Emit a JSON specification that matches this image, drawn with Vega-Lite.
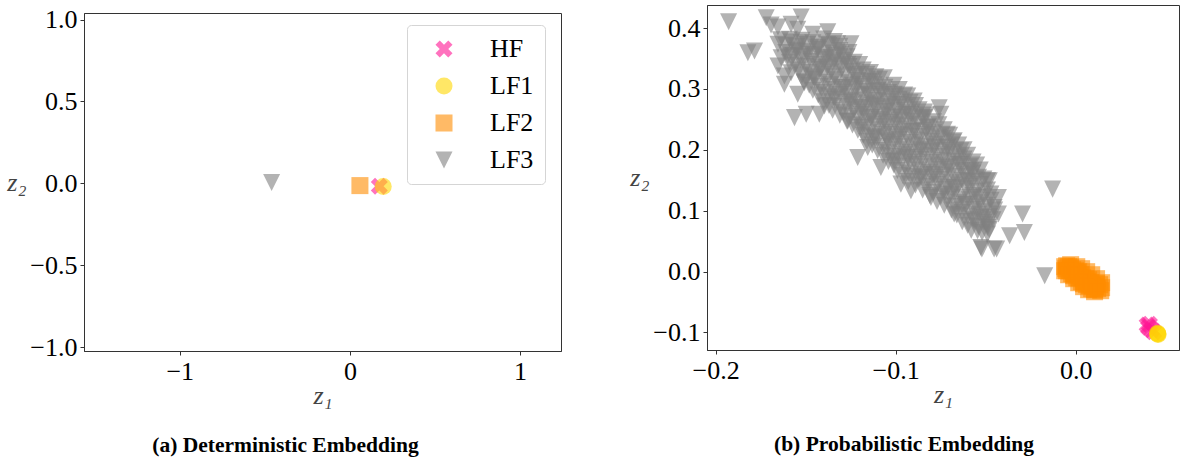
{
"$schema": "https://vega.github.io/schema/vega-lite/v6.json",
"background": "white",
"padding": {"left": 6, "top": 4, "right": 0, "bottom": 0},
"spacing": 67,
"config": {
 "view": {"stroke": "#333", "strokeWidth": 1},
 "font": "Liberation Serif",
 "axis": {"labelFont": "Liberation Serif", "labelFontSize": 26, "labelColor": "black", "titleFont": "Liberation Serif", "titleFontStyle": "italic", "titleFontWeight": "normal", "titleFontSize": 26, "titleColor": "#444", "domainColor": "#333", "tickColor": "#333", "tickSize": 4, "grid": false, "domainWidth": 1},
 "axisX": {"labelPadding": 3, "titlePadding": -2, "labelFlush": false},
 "axisY": {"labelPadding": 3, "titleAngle": 0, "titlePadding": 2, "titleAlign": "right", "titleBaseline": "middle", "minExtent": 56, "maxExtent": 56},
 "title": {"font": "Liberation Serif", "fontSize": 21.5, "fontWeight": "bold", "color": "black"}
},
"datasets": {
 "left": [
  {"fidelity": "HF", "z1": 0.173, "z2": -0.018},
  {"fidelity": "LF1", "z1": 0.196, "z2": -0.02},
  {"fidelity": "LF2", "z1": 0.059, "z2": -0.014},
  {"fidelity": "LF3", "z1": -0.46, "z2": 0.005}
 ],
 "right": [
  {"fidelity": "HF", "z1": 0.0397, "z2": -0.0881},
  {"fidelity": "HF", "z1": 0.0410, "z2": -0.0865},
  {"fidelity": "HF", "z1": 0.0405, "z2": -0.0922},
  {"fidelity": "HF", "z1": 0.0422, "z2": -0.0955},
  {"fidelity": "HF", "z1": 0.0433, "z2": -0.0988},
  {"fidelity": "LF1", "z1": 0.0456, "z2": -0.1026},
  {"fidelity": "LF1", "z1": 0.0455, "z2": -0.1013},
  {"fidelity": "LF1", "z1": 0.0458, "z2": -0.1034},
  {"fidelity": "LF2", "z1": -0.0061, "z2": 0.0079},
  {"fidelity": "LF2", "z1": -0.0050, "z2": 0.0095},
  {"fidelity": "LF2", "z1": -0.0039, "z2": 0.0079},
  {"fidelity": "LF2", "z1": -0.0028, "z2": 0.0062},
  {"fidelity": "LF2", "z1": -0.0050, "z2": 0.0013},
  {"fidelity": "LF2", "z1": -0.0033, "z2": 0.0013},
  {"fidelity": "LF2", "z1": -0.0017, "z2": 0.0030},
  {"fidelity": "LF2", "z1": 0.0000, "z2": 0.0013},
  {"fidelity": "LF2", "z1": -0.0022, "z2": -0.0036},
  {"fidelity": "LF2", "z1": -0.0006, "z2": -0.0036},
  {"fidelity": "LF2", "z1": 0.0011, "z2": -0.0020},
  {"fidelity": "LF2", "z1": 0.0028, "z2": -0.0053},
  {"fidelity": "LF2", "z1": 0.0006, "z2": -0.0102},
  {"fidelity": "LF2", "z1": 0.0022, "z2": -0.0102},
  {"fidelity": "LF2", "z1": 0.0039, "z2": -0.0102},
  {"fidelity": "LF2", "z1": 0.0055, "z2": -0.0118},
  {"fidelity": "LF2", "z1": 0.0033, "z2": -0.0167},
  {"fidelity": "LF2", "z1": 0.0050, "z2": -0.0167},
  {"fidelity": "LF2", "z1": 0.0067, "z2": -0.0167},
  {"fidelity": "LF2", "z1": 0.0083, "z2": -0.0184},
  {"fidelity": "LF2", "z1": 0.0061, "z2": -0.0217},
  {"fidelity": "LF2", "z1": 0.0078, "z2": -0.0233},
  {"fidelity": "LF2", "z1": 0.0094, "z2": -0.0233},
  {"fidelity": "LF2", "z1": 0.0111, "z2": -0.0249},
  {"fidelity": "LF2", "z1": 0.0089, "z2": -0.0282},
  {"fidelity": "LF2", "z1": 0.0105, "z2": -0.0299},
  {"fidelity": "LF2", "z1": 0.0122, "z2": -0.0282},
  {"fidelity": "LF2", "z1": 0.0139, "z2": -0.0315},
  {"fidelity": "LF2", "z1": 0.0144, "z2": -0.0266},
  {"fidelity": "LF2", "z1": 0.0133, "z2": -0.0217},
  {"fidelity": "LF2", "z1": -0.0055, "z2": 0.0046},
  {"fidelity": "LF2", "z1": -0.0011, "z2": -0.0069},
  {"fidelity": "LF2", "z1": 0.0044, "z2": -0.0200},
  {"fidelity": "LF2", "z1": 0.0116, "z2": -0.0200},
  {"fidelity": "LF2", "z1": 0.0072, "z2": -0.0135},
  {"fidelity": "LF2", "z1": 0.0017, "z2": -0.0003},
  {"fidelity": "LF2", "z1": -0.0028, "z2": 0.0112},
  {"fidelity": "LF2", "z1": 0.0006, "z2": 0.0079},
  {"fidelity": "LF2", "z1": 0.0033, "z2": 0.0046},
  {"fidelity": "LF2", "z1": 0.0061, "z2": -0.0003},
  {"fidelity": "LF2", "z1": 0.0089, "z2": -0.0053},
  {"fidelity": "LF2", "z1": 0.0116, "z2": -0.0118},
  {"fidelity": "LF2", "z1": 0.0144, "z2": -0.0184},
  {"fidelity": "LF2", "z1": -0.0061, "z2": 0.0013},
  {"fidelity": "LF2", "z1": -0.0039, "z2": -0.0053},
  {"fidelity": "LF2", "z1": -0.0011, "z2": -0.0118},
  {"fidelity": "LF2", "z1": 0.0017, "z2": -0.0184},
  {"fidelity": "LF2", "z1": 0.0044, "z2": -0.0249},
  {"fidelity": "LF2", "z1": 0.0072, "z2": -0.0299},
  {"fidelity": "LF2", "z1": 0.0105, "z2": -0.0332},
  {"fidelity": "LF3", "z1": -0.1928, "z2": 0.4105},
  {"fidelity": "LF3", "z1": -0.1719, "z2": 0.4170},
  {"fidelity": "LF3", "z1": -0.1692, "z2": 0.4051},
  {"fidelity": "LF3", "z1": -0.1654, "z2": 0.4018},
  {"fidelity": "LF3", "z1": -0.1525, "z2": 0.4182},
  {"fidelity": "LF3", "z1": -0.1581, "z2": 0.4062},
  {"fidelity": "LF3", "z1": -0.1544, "z2": 0.3980},
  {"fidelity": "LF3", "z1": -0.1460, "z2": 0.3898},
  {"fidelity": "LF3", "z1": -0.1377, "z2": 0.3941},
  {"fidelity": "LF3", "z1": -0.1821, "z2": 0.3596},
  {"fidelity": "LF3", "z1": -0.1784, "z2": 0.3624},
  {"fidelity": "LF3", "z1": -0.1654, "z2": 0.3734},
  {"fidelity": "LF3", "z1": -0.1590, "z2": 0.3816},
  {"fidelity": "LF3", "z1": -0.1525, "z2": 0.3760},
  {"fidelity": "LF3", "z1": -0.1636, "z2": 0.3514},
  {"fidelity": "LF3", "z1": -0.1654, "z2": 0.3378},
  {"fidelity": "LF3", "z1": -0.1599, "z2": 0.3542},
  {"fidelity": "LF3", "z1": -0.1544, "z2": 0.3624},
  {"fidelity": "LF3", "z1": -0.1488, "z2": 0.3570},
  {"fidelity": "LF3", "z1": -0.1433, "z2": 0.3678},
  {"fidelity": "LF3", "z1": -0.1377, "z2": 0.3734},
  {"fidelity": "LF3", "z1": -0.1322, "z2": 0.3744},
  {"fidelity": "LF3", "z1": -0.1248, "z2": 0.3744},
  {"fidelity": "LF3", "z1": -0.1618, "z2": 0.3214},
  {"fidelity": "LF3", "z1": -0.1581, "z2": 0.3268},
  {"fidelity": "LF3", "z1": -0.1618, "z2": 0.3077},
  {"fidelity": "LF3", "z1": -0.1544, "z2": 0.2913},
  {"fidelity": "LF3", "z1": -0.1507, "z2": 0.3104},
  {"fidelity": "LF3", "z1": -0.1451, "z2": 0.3186},
  {"fidelity": "LF3", "z1": -0.1414, "z2": 0.3350},
  {"fidelity": "LF3", "z1": -0.1341, "z2": 0.3460},
  {"fidelity": "LF3", "z1": -0.1266, "z2": 0.3406},
  {"fidelity": "LF3", "z1": -0.1211, "z2": 0.3241},
  {"fidelity": "LF3", "z1": -0.1377, "z2": 0.3514},
  {"fidelity": "LF3", "z1": -0.1303, "z2": 0.3570},
  {"fidelity": "LF3", "z1": -0.1562, "z2": 0.2529},
  {"fidelity": "LF3", "z1": -0.1497, "z2": 0.2585},
  {"fidelity": "LF3", "z1": -0.1424, "z2": 0.2585},
  {"fidelity": "LF3", "z1": -0.1396, "z2": 0.2721},
  {"fidelity": "LF3", "z1": -0.1341, "z2": 0.2857},
  {"fidelity": "LF3", "z1": -0.1285, "z2": 0.3022},
  {"fidelity": "LF3", "z1": -0.1211, "z2": 0.3077},
  {"fidelity": "LF3", "z1": -0.1137, "z2": 0.3131},
  {"fidelity": "LF3", "z1": -0.1063, "z2": 0.3186},
  {"fidelity": "LF3", "z1": -0.1155, "z2": 0.2913},
  {"fidelity": "LF3", "z1": -0.1082, "z2": 0.2967},
  {"fidelity": "LF3", "z1": -0.1008, "z2": 0.2913},
  {"fidelity": "LF3", "z1": -0.0933, "z2": 0.2885},
  {"fidelity": "LF3", "z1": -0.1248, "z2": 0.2803},
  {"fidelity": "LF3", "z1": -0.1192, "z2": 0.2693},
  {"fidelity": "LF3", "z1": -0.1119, "z2": 0.2749},
  {"fidelity": "LF3", "z1": -0.1044, "z2": 0.2693},
  {"fidelity": "LF3", "z1": -0.0971, "z2": 0.2749},
  {"fidelity": "LF3", "z1": -0.0897, "z2": 0.2803},
  {"fidelity": "LF3", "z1": -0.1266, "z2": 0.2475},
  {"fidelity": "LF3", "z1": -0.1192, "z2": 0.2365},
  {"fidelity": "LF3", "z1": -0.1137, "z2": 0.2529},
  {"fidelity": "LF3", "z1": -0.1063, "z2": 0.2475},
  {"fidelity": "LF3", "z1": -0.0989, "z2": 0.2529},
  {"fidelity": "LF3", "z1": -0.0915, "z2": 0.2585},
  {"fidelity": "LF3", "z1": -0.0841, "z2": 0.2529},
  {"fidelity": "LF3", "z1": -0.0758, "z2": 0.2693},
  {"fidelity": "LF3", "z1": -0.0749, "z2": 0.2585},
  {"fidelity": "LF3", "z1": -0.1211, "z2": 0.1873},
  {"fidelity": "LF3", "z1": -0.1155, "z2": 0.2037},
  {"fidelity": "LF3", "z1": -0.1119, "z2": 0.2201},
  {"fidelity": "LF3", "z1": -0.1044, "z2": 0.2147},
  {"fidelity": "LF3", "z1": -0.0971, "z2": 0.2257},
  {"fidelity": "LF3", "z1": -0.0897, "z2": 0.2311},
  {"fidelity": "LF3", "z1": -0.0823, "z2": 0.2365},
  {"fidelity": "LF3", "z1": -0.0712, "z2": 0.2257},
  {"fidelity": "LF3", "z1": -0.0675, "z2": 0.2147},
  {"fidelity": "LF3", "z1": -0.1082, "z2": 0.1709},
  {"fidelity": "LF3", "z1": -0.1008, "z2": 0.1818},
  {"fidelity": "LF3", "z1": -0.0933, "z2": 0.1873},
  {"fidelity": "LF3", "z1": -0.0860, "z2": 0.1983},
  {"fidelity": "LF3", "z1": -0.0786, "z2": 0.2037},
  {"fidelity": "LF3", "z1": -0.0712, "z2": 0.2037},
  {"fidelity": "LF3", "z1": -0.0638, "z2": 0.1983},
  {"fidelity": "LF3", "z1": -0.0971, "z2": 0.1436},
  {"fidelity": "LF3", "z1": -0.0915, "z2": 0.1326},
  {"fidelity": "LF3", "z1": -0.0860, "z2": 0.1544},
  {"fidelity": "LF3", "z1": -0.0786, "z2": 0.1600},
  {"fidelity": "LF3", "z1": -0.0712, "z2": 0.1709},
  {"fidelity": "LF3", "z1": -0.0638, "z2": 0.1764},
  {"fidelity": "LF3", "z1": -0.0804, "z2": 0.1216},
  {"fidelity": "LF3", "z1": -0.0730, "z2": 0.1272},
  {"fidelity": "LF3", "z1": -0.0675, "z2": 0.1380},
  {"fidelity": "LF3", "z1": -0.0582, "z2": 0.1654},
  {"fidelity": "LF3", "z1": -0.0601, "z2": 0.1490},
  {"fidelity": "LF3", "z1": -0.0490, "z2": 0.1490},
  {"fidelity": "LF3", "z1": -0.0675, "z2": 0.0944},
  {"fidelity": "LF3", "z1": -0.0620, "z2": 0.1108},
  {"fidelity": "LF3", "z1": -0.0545, "z2": 0.1216},
  {"fidelity": "LF3", "z1": -0.0471, "z2": 0.1272},
  {"fidelity": "LF3", "z1": -0.0564, "z2": 0.0834},
  {"fidelity": "LF3", "z1": -0.0509, "z2": 0.0888},
  {"fidelity": "LF3", "z1": -0.0453, "z2": 0.1052},
  {"fidelity": "LF3", "z1": -0.0527, "z2": 0.0396},
  {"fidelity": "LF3", "z1": -0.0453, "z2": 0.0369},
  {"fidelity": "LF3", "z1": -0.0545, "z2": 0.0670},
  {"fidelity": "LF3", "z1": -0.0490, "z2": 0.0615},
  {"fidelity": "LF3", "z1": -0.0295, "z2": 0.0944},
  {"fidelity": "LF3", "z1": -0.0285, "z2": 0.0642},
  {"fidelity": "LF3", "z1": -0.0367, "z2": 0.0588},
  {"fidelity": "LF3", "z1": -0.0439, "z2": 0.0369},
  {"fidelity": "LF3", "z1": -0.0521, "z2": 0.0369},
  {"fidelity": "LF3", "z1": -0.0480, "z2": 0.1490},
  {"fidelity": "LF3", "z1": -0.0429, "z2": 0.1216},
  {"fidelity": "LF3", "z1": -0.0429, "z2": 0.0944},
  {"fidelity": "LF3", "z1": -0.0490, "z2": 0.0724},
  {"fidelity": "LF3", "z1": -0.0128, "z2": 0.1354},
  {"fidelity": "LF3", "z1": -0.0172, "z2": -0.0069},
  {"fidelity": "LF3", "z1": -0.164, "z2": 0.381},
  {"fidelity": "LF3", "z1": -0.158, "z2": 0.377},
  {"fidelity": "LF3", "z1": -0.152, "z2": 0.380},
  {"fidelity": "LF3", "z1": -0.146, "z2": 0.376},
  {"fidelity": "LF3", "z1": -0.140, "z2": 0.382},
  {"fidelity": "LF3", "z1": -0.134, "z2": 0.378},
  {"fidelity": "LF3", "z1": -0.161, "z2": 0.360},
  {"fidelity": "LF3", "z1": -0.155, "z2": 0.364},
  {"fidelity": "LF3", "z1": -0.149, "z2": 0.361},
  {"fidelity": "LF3", "z1": -0.143, "z2": 0.365},
  {"fidelity": "LF3", "z1": -0.137, "z2": 0.359},
  {"fidelity": "LF3", "z1": -0.131, "z2": 0.363},
  {"fidelity": "LF3", "z1": -0.126, "z2": 0.360},
  {"fidelity": "LF3", "z1": -0.159, "z2": 0.344},
  {"fidelity": "LF3", "z1": -0.153, "z2": 0.348},
  {"fidelity": "LF3", "z1": -0.147, "z2": 0.345},
  {"fidelity": "LF3", "z1": -0.141, "z2": 0.349},
  {"fidelity": "LF3", "z1": -0.135, "z2": 0.343},
  {"fidelity": "LF3", "z1": -0.129, "z2": 0.347},
  {"fidelity": "LF3", "z1": -0.123, "z2": 0.344},
  {"fidelity": "LF3", "z1": -0.154, "z2": 0.331},
  {"fidelity": "LF3", "z1": -0.148, "z2": 0.327},
  {"fidelity": "LF3", "z1": -0.142, "z2": 0.332},
  {"fidelity": "LF3", "z1": -0.136, "z2": 0.328},
  {"fidelity": "LF3", "z1": -0.130, "z2": 0.333},
  {"fidelity": "LF3", "z1": -0.124, "z2": 0.329},
  {"fidelity": "LF3", "z1": -0.118, "z2": 0.331},
  {"fidelity": "LF3", "z1": -0.114, "z2": 0.327},
  {"fidelity": "LF3", "z1": -0.151, "z2": 0.312},
  {"fidelity": "LF3", "z1": -0.145, "z2": 0.316},
  {"fidelity": "LF3", "z1": -0.139, "z2": 0.311},
  {"fidelity": "LF3", "z1": -0.133, "z2": 0.315},
  {"fidelity": "LF3", "z1": -0.127, "z2": 0.310},
  {"fidelity": "LF3", "z1": -0.121, "z2": 0.314},
  {"fidelity": "LF3", "z1": -0.115, "z2": 0.312},
  {"fidelity": "LF3", "z1": -0.109, "z2": 0.316},
  {"fidelity": "LF3", "z1": -0.146, "z2": 0.298},
  {"fidelity": "LF3", "z1": -0.140, "z2": 0.294},
  {"fidelity": "LF3", "z1": -0.134, "z2": 0.299},
  {"fidelity": "LF3", "z1": -0.128, "z2": 0.295},
  {"fidelity": "LF3", "z1": -0.122, "z2": 0.300},
  {"fidelity": "LF3", "z1": -0.116, "z2": 0.296},
  {"fidelity": "LF3", "z1": -0.110, "z2": 0.298},
  {"fidelity": "LF3", "z1": -0.104, "z2": 0.294},
  {"fidelity": "LF3", "z1": -0.098, "z2": 0.299},
  {"fidelity": "LF3", "z1": -0.140, "z2": 0.279},
  {"fidelity": "LF3", "z1": -0.134, "z2": 0.283},
  {"fidelity": "LF3", "z1": -0.128, "z2": 0.278},
  {"fidelity": "LF3", "z1": -0.122, "z2": 0.282},
  {"fidelity": "LF3", "z1": -0.116, "z2": 0.277},
  {"fidelity": "LF3", "z1": -0.110, "z2": 0.281},
  {"fidelity": "LF3", "z1": -0.104, "z2": 0.279},
  {"fidelity": "LF3", "z1": -0.098, "z2": 0.283},
  {"fidelity": "LF3", "z1": -0.092, "z2": 0.278},
  {"fidelity": "LF3", "z1": -0.135, "z2": 0.265},
  {"fidelity": "LF3", "z1": -0.129, "z2": 0.261},
  {"fidelity": "LF3", "z1": -0.123, "z2": 0.266},
  {"fidelity": "LF3", "z1": -0.117, "z2": 0.262},
  {"fidelity": "LF3", "z1": -0.111, "z2": 0.267},
  {"fidelity": "LF3", "z1": -0.105, "z2": 0.263},
  {"fidelity": "LF3", "z1": -0.099, "z2": 0.265},
  {"fidelity": "LF3", "z1": -0.093, "z2": 0.261},
  {"fidelity": "LF3", "z1": -0.087, "z2": 0.266},
  {"fidelity": "LF3", "z1": -0.084, "z2": 0.262},
  {"fidelity": "LF3", "z1": -0.127, "z2": 0.247},
  {"fidelity": "LF3", "z1": -0.121, "z2": 0.251},
  {"fidelity": "LF3", "z1": -0.115, "z2": 0.246},
  {"fidelity": "LF3", "z1": -0.109, "z2": 0.250},
  {"fidelity": "LF3", "z1": -0.103, "z2": 0.245},
  {"fidelity": "LF3", "z1": -0.097, "z2": 0.249},
  {"fidelity": "LF3", "z1": -0.091, "z2": 0.247},
  {"fidelity": "LF3", "z1": -0.085, "z2": 0.251},
  {"fidelity": "LF3", "z1": -0.079, "z2": 0.246},
  {"fidelity": "LF3", "z1": -0.121, "z2": 0.232},
  {"fidelity": "LF3", "z1": -0.115, "z2": 0.228},
  {"fidelity": "LF3", "z1": -0.109, "z2": 0.233},
  {"fidelity": "LF3", "z1": -0.103, "z2": 0.229},
  {"fidelity": "LF3", "z1": -0.097, "z2": 0.234},
  {"fidelity": "LF3", "z1": -0.091, "z2": 0.230},
  {"fidelity": "LF3", "z1": -0.085, "z2": 0.232},
  {"fidelity": "LF3", "z1": -0.079, "z2": 0.228},
  {"fidelity": "LF3", "z1": -0.073, "z2": 0.233},
  {"fidelity": "LF3", "z1": -0.116, "z2": 0.214},
  {"fidelity": "LF3", "z1": -0.110, "z2": 0.218},
  {"fidelity": "LF3", "z1": -0.104, "z2": 0.213},
  {"fidelity": "LF3", "z1": -0.098, "z2": 0.217},
  {"fidelity": "LF3", "z1": -0.092, "z2": 0.212},
  {"fidelity": "LF3", "z1": -0.086, "z2": 0.216},
  {"fidelity": "LF3", "z1": -0.080, "z2": 0.214},
  {"fidelity": "LF3", "z1": -0.074, "z2": 0.218},
  {"fidelity": "LF3", "z1": -0.068, "z2": 0.213},
  {"fidelity": "LF3", "z1": -0.110, "z2": 0.199},
  {"fidelity": "LF3", "z1": -0.104, "z2": 0.195},
  {"fidelity": "LF3", "z1": -0.098, "z2": 0.200},
  {"fidelity": "LF3", "z1": -0.092, "z2": 0.196},
  {"fidelity": "LF3", "z1": -0.086, "z2": 0.201},
  {"fidelity": "LF3", "z1": -0.080, "z2": 0.197},
  {"fidelity": "LF3", "z1": -0.074, "z2": 0.199},
  {"fidelity": "LF3", "z1": -0.068, "z2": 0.195},
  {"fidelity": "LF3", "z1": -0.062, "z2": 0.200},
  {"fidelity": "LF3", "z1": -0.104, "z2": 0.181},
  {"fidelity": "LF3", "z1": -0.098, "z2": 0.185},
  {"fidelity": "LF3", "z1": -0.092, "z2": 0.180},
  {"fidelity": "LF3", "z1": -0.086, "z2": 0.184},
  {"fidelity": "LF3", "z1": -0.080, "z2": 0.179},
  {"fidelity": "LF3", "z1": -0.074, "z2": 0.183},
  {"fidelity": "LF3", "z1": -0.068, "z2": 0.181},
  {"fidelity": "LF3", "z1": -0.062, "z2": 0.185},
  {"fidelity": "LF3", "z1": -0.057, "z2": 0.180},
  {"fidelity": "LF3", "z1": -0.099, "z2": 0.166},
  {"fidelity": "LF3", "z1": -0.093, "z2": 0.162},
  {"fidelity": "LF3", "z1": -0.087, "z2": 0.167},
  {"fidelity": "LF3", "z1": -0.081, "z2": 0.163},
  {"fidelity": "LF3", "z1": -0.075, "z2": 0.168},
  {"fidelity": "LF3", "z1": -0.069, "z2": 0.164},
  {"fidelity": "LF3", "z1": -0.063, "z2": 0.166},
  {"fidelity": "LF3", "z1": -0.057, "z2": 0.162},
  {"fidelity": "LF3", "z1": -0.053, "z2": 0.167},
  {"fidelity": "LF3", "z1": -0.093, "z2": 0.148},
  {"fidelity": "LF3", "z1": -0.087, "z2": 0.152},
  {"fidelity": "LF3", "z1": -0.081, "z2": 0.147},
  {"fidelity": "LF3", "z1": -0.075, "z2": 0.151},
  {"fidelity": "LF3", "z1": -0.069, "z2": 0.146},
  {"fidelity": "LF3", "z1": -0.063, "z2": 0.150},
  {"fidelity": "LF3", "z1": -0.057, "z2": 0.148},
  {"fidelity": "LF3", "z1": -0.051, "z2": 0.152},
  {"fidelity": "LF3", "z1": -0.085, "z2": 0.134},
  {"fidelity": "LF3", "z1": -0.079, "z2": 0.130},
  {"fidelity": "LF3", "z1": -0.073, "z2": 0.135},
  {"fidelity": "LF3", "z1": -0.067, "z2": 0.131},
  {"fidelity": "LF3", "z1": -0.061, "z2": 0.136},
  {"fidelity": "LF3", "z1": -0.055, "z2": 0.132},
  {"fidelity": "LF3", "z1": -0.049, "z2": 0.134},
  {"fidelity": "LF3", "z1": -0.077, "z2": 0.115},
  {"fidelity": "LF3", "z1": -0.071, "z2": 0.119},
  {"fidelity": "LF3", "z1": -0.065, "z2": 0.114},
  {"fidelity": "LF3", "z1": -0.059, "z2": 0.118},
  {"fidelity": "LF3", "z1": -0.053, "z2": 0.113},
  {"fidelity": "LF3", "z1": -0.047, "z2": 0.117},
  {"fidelity": "LF3", "z1": -0.069, "z2": 0.101},
  {"fidelity": "LF3", "z1": -0.063, "z2": 0.097},
  {"fidelity": "LF3", "z1": -0.057, "z2": 0.102},
  {"fidelity": "LF3", "z1": -0.051, "z2": 0.098},
  {"fidelity": "LF3", "z1": -0.045, "z2": 0.101},
  {"fidelity": "LF3", "z1": -0.063, "z2": 0.082},
  {"fidelity": "LF3", "z1": -0.057, "z2": 0.086},
  {"fidelity": "LF3", "z1": -0.051, "z2": 0.081},
  {"fidelity": "LF3", "z1": -0.046, "z2": 0.085},
  {"fidelity": "LF3", "z1": -0.058, "z2": 0.068},
  {"fidelity": "LF3", "z1": -0.052, "z2": 0.064},
  {"fidelity": "LF3", "z1": -0.048, "z2": 0.069},
  {"fidelity": "LF3", "z1": -0.161, "z2": 0.372},
  {"fidelity": "LF3", "z1": -0.155, "z2": 0.370},
  {"fidelity": "LF3", "z1": -0.149, "z2": 0.373},
  {"fidelity": "LF3", "z1": -0.143, "z2": 0.369},
  {"fidelity": "LF3", "z1": -0.137, "z2": 0.372},
  {"fidelity": "LF3", "z1": -0.131, "z2": 0.370},
  {"fidelity": "LF3", "z1": -0.157, "z2": 0.355},
  {"fidelity": "LF3", "z1": -0.151, "z2": 0.353},
  {"fidelity": "LF3", "z1": -0.145, "z2": 0.356},
  {"fidelity": "LF3", "z1": -0.139, "z2": 0.352},
  {"fidelity": "LF3", "z1": -0.133, "z2": 0.355},
  {"fidelity": "LF3", "z1": -0.127, "z2": 0.353},
  {"fidelity": "LF3", "z1": -0.156, "z2": 0.339},
  {"fidelity": "LF3", "z1": -0.150, "z2": 0.337},
  {"fidelity": "LF3", "z1": -0.144, "z2": 0.340},
  {"fidelity": "LF3", "z1": -0.138, "z2": 0.336},
  {"fidelity": "LF3", "z1": -0.132, "z2": 0.339},
  {"fidelity": "LF3", "z1": -0.126, "z2": 0.337},
  {"fidelity": "LF3", "z1": -0.120, "z2": 0.340},
  {"fidelity": "LF3", "z1": -0.152, "z2": 0.323},
  {"fidelity": "LF3", "z1": -0.146, "z2": 0.321},
  {"fidelity": "LF3", "z1": -0.140, "z2": 0.324},
  {"fidelity": "LF3", "z1": -0.134, "z2": 0.320},
  {"fidelity": "LF3", "z1": -0.128, "z2": 0.323},
  {"fidelity": "LF3", "z1": -0.122, "z2": 0.321},
  {"fidelity": "LF3", "z1": -0.116, "z2": 0.324},
  {"fidelity": "LF3", "z1": -0.111, "z2": 0.320},
  {"fidelity": "LF3", "z1": -0.148, "z2": 0.306},
  {"fidelity": "LF3", "z1": -0.142, "z2": 0.304},
  {"fidelity": "LF3", "z1": -0.136, "z2": 0.307},
  {"fidelity": "LF3", "z1": -0.130, "z2": 0.303},
  {"fidelity": "LF3", "z1": -0.124, "z2": 0.306},
  {"fidelity": "LF3", "z1": -0.118, "z2": 0.304},
  {"fidelity": "LF3", "z1": -0.112, "z2": 0.307},
  {"fidelity": "LF3", "z1": -0.106, "z2": 0.303},
  {"fidelity": "LF3", "z1": -0.101, "z2": 0.306},
  {"fidelity": "LF3", "z1": -0.143, "z2": 0.290},
  {"fidelity": "LF3", "z1": -0.137, "z2": 0.288},
  {"fidelity": "LF3", "z1": -0.131, "z2": 0.291},
  {"fidelity": "LF3", "z1": -0.125, "z2": 0.287},
  {"fidelity": "LF3", "z1": -0.119, "z2": 0.290},
  {"fidelity": "LF3", "z1": -0.113, "z2": 0.288},
  {"fidelity": "LF3", "z1": -0.107, "z2": 0.291},
  {"fidelity": "LF3", "z1": -0.101, "z2": 0.287},
  {"fidelity": "LF3", "z1": -0.095, "z2": 0.290},
  {"fidelity": "LF3", "z1": -0.137, "z2": 0.273},
  {"fidelity": "LF3", "z1": -0.131, "z2": 0.271},
  {"fidelity": "LF3", "z1": -0.125, "z2": 0.274},
  {"fidelity": "LF3", "z1": -0.119, "z2": 0.270},
  {"fidelity": "LF3", "z1": -0.113, "z2": 0.273},
  {"fidelity": "LF3", "z1": -0.107, "z2": 0.271},
  {"fidelity": "LF3", "z1": -0.101, "z2": 0.274},
  {"fidelity": "LF3", "z1": -0.095, "z2": 0.270},
  {"fidelity": "LF3", "z1": -0.089, "z2": 0.273},
  {"fidelity": "LF3", "z1": -0.131, "z2": 0.257},
  {"fidelity": "LF3", "z1": -0.125, "z2": 0.255},
  {"fidelity": "LF3", "z1": -0.119, "z2": 0.258},
  {"fidelity": "LF3", "z1": -0.113, "z2": 0.254},
  {"fidelity": "LF3", "z1": -0.107, "z2": 0.257},
  {"fidelity": "LF3", "z1": -0.101, "z2": 0.255},
  {"fidelity": "LF3", "z1": -0.095, "z2": 0.258},
  {"fidelity": "LF3", "z1": -0.089, "z2": 0.254},
  {"fidelity": "LF3", "z1": -0.083, "z2": 0.257},
  {"fidelity": "LF3", "z1": -0.124, "z2": 0.241},
  {"fidelity": "LF3", "z1": -0.118, "z2": 0.239},
  {"fidelity": "LF3", "z1": -0.112, "z2": 0.242},
  {"fidelity": "LF3", "z1": -0.106, "z2": 0.238},
  {"fidelity": "LF3", "z1": -0.100, "z2": 0.241},
  {"fidelity": "LF3", "z1": -0.094, "z2": 0.239},
  {"fidelity": "LF3", "z1": -0.088, "z2": 0.242},
  {"fidelity": "LF3", "z1": -0.082, "z2": 0.238},
  {"fidelity": "LF3", "z1": -0.076, "z2": 0.241},
  {"fidelity": "LF3", "z1": -0.118, "z2": 0.224},
  {"fidelity": "LF3", "z1": -0.112, "z2": 0.222},
  {"fidelity": "LF3", "z1": -0.106, "z2": 0.225},
  {"fidelity": "LF3", "z1": -0.100, "z2": 0.221},
  {"fidelity": "LF3", "z1": -0.094, "z2": 0.224},
  {"fidelity": "LF3", "z1": -0.088, "z2": 0.222},
  {"fidelity": "LF3", "z1": -0.082, "z2": 0.225},
  {"fidelity": "LF3", "z1": -0.076, "z2": 0.221},
  {"fidelity": "LF3", "z1": -0.070, "z2": 0.224},
  {"fidelity": "LF3", "z1": -0.113, "z2": 0.208},
  {"fidelity": "LF3", "z1": -0.107, "z2": 0.206},
  {"fidelity": "LF3", "z1": -0.101, "z2": 0.209},
  {"fidelity": "LF3", "z1": -0.095, "z2": 0.205},
  {"fidelity": "LF3", "z1": -0.089, "z2": 0.208},
  {"fidelity": "LF3", "z1": -0.083, "z2": 0.206},
  {"fidelity": "LF3", "z1": -0.077, "z2": 0.209},
  {"fidelity": "LF3", "z1": -0.071, "z2": 0.205},
  {"fidelity": "LF3", "z1": -0.065, "z2": 0.208},
  {"fidelity": "LF3", "z1": -0.107, "z2": 0.191},
  {"fidelity": "LF3", "z1": -0.101, "z2": 0.189},
  {"fidelity": "LF3", "z1": -0.095, "z2": 0.192},
  {"fidelity": "LF3", "z1": -0.089, "z2": 0.188},
  {"fidelity": "LF3", "z1": -0.083, "z2": 0.191},
  {"fidelity": "LF3", "z1": -0.077, "z2": 0.189},
  {"fidelity": "LF3", "z1": -0.071, "z2": 0.192},
  {"fidelity": "LF3", "z1": -0.065, "z2": 0.188},
  {"fidelity": "LF3", "z1": -0.060, "z2": 0.191},
  {"fidelity": "LF3", "z1": -0.101, "z2": 0.175},
  {"fidelity": "LF3", "z1": -0.095, "z2": 0.173},
  {"fidelity": "LF3", "z1": -0.089, "z2": 0.176},
  {"fidelity": "LF3", "z1": -0.083, "z2": 0.172},
  {"fidelity": "LF3", "z1": -0.077, "z2": 0.175},
  {"fidelity": "LF3", "z1": -0.071, "z2": 0.173},
  {"fidelity": "LF3", "z1": -0.065, "z2": 0.176},
  {"fidelity": "LF3", "z1": -0.059, "z2": 0.172},
  {"fidelity": "LF3", "z1": -0.055, "z2": 0.175},
  {"fidelity": "LF3", "z1": -0.096, "z2": 0.158},
  {"fidelity": "LF3", "z1": -0.090, "z2": 0.156},
  {"fidelity": "LF3", "z1": -0.084, "z2": 0.159},
  {"fidelity": "LF3", "z1": -0.078, "z2": 0.155},
  {"fidelity": "LF3", "z1": -0.072, "z2": 0.158},
  {"fidelity": "LF3", "z1": -0.066, "z2": 0.156},
  {"fidelity": "LF3", "z1": -0.060, "z2": 0.159},
  {"fidelity": "LF3", "z1": -0.054, "z2": 0.155},
  {"fidelity": "LF3", "z1": -0.089, "z2": 0.142},
  {"fidelity": "LF3", "z1": -0.083, "z2": 0.140},
  {"fidelity": "LF3", "z1": -0.077, "z2": 0.143},
  {"fidelity": "LF3", "z1": -0.071, "z2": 0.139},
  {"fidelity": "LF3", "z1": -0.065, "z2": 0.142},
  {"fidelity": "LF3", "z1": -0.059, "z2": 0.140},
  {"fidelity": "LF3", "z1": -0.053, "z2": 0.143},
  {"fidelity": "LF3", "z1": -0.081, "z2": 0.125},
  {"fidelity": "LF3", "z1": -0.075, "z2": 0.123},
  {"fidelity": "LF3", "z1": -0.069, "z2": 0.126},
  {"fidelity": "LF3", "z1": -0.063, "z2": 0.122},
  {"fidelity": "LF3", "z1": -0.057, "z2": 0.125},
  {"fidelity": "LF3", "z1": -0.051, "z2": 0.123},
  {"fidelity": "LF3", "z1": -0.073, "z2": 0.109},
  {"fidelity": "LF3", "z1": -0.067, "z2": 0.107},
  {"fidelity": "LF3", "z1": -0.061, "z2": 0.110},
  {"fidelity": "LF3", "z1": -0.055, "z2": 0.106},
  {"fidelity": "LF3", "z1": -0.049, "z2": 0.109},
  {"fidelity": "LF3", "z1": -0.066, "z2": 0.093},
  {"fidelity": "LF3", "z1": -0.060, "z2": 0.091},
  {"fidelity": "LF3", "z1": -0.054, "z2": 0.094},
  {"fidelity": "LF3", "z1": -0.048, "z2": 0.090},
  {"fidelity": "LF3", "z1": -0.060, "z2": 0.076},
  {"fidelity": "LF3", "z1": -0.054, "z2": 0.074},
  {"fidelity": "LF3", "z1": -0.049, "z2": 0.077}
 ]
},
"hconcat": [
 {
  "spacing": 0,
  "vconcat": [
   {
    "width": 477,
    "height": 1,
    "view": {"stroke": null},
    "data": {"values": [{}]},
    "mark": {"type": "point", "size": 0, "opacity": 0, "strokeWidth": 0},
    "encoding": {}
   },
   {
    "width": 477,
    "height": 338,
    "data": {"name": "left"},
    "title": {"text": "(a) Deterministic Embedding", "orient": "bottom", "anchor": "middle", "dx": -37, "offset": 27},
    "mark": {"type": "point", "filled": true, "opacity": 0.6, "size": 290, "strokeWidth": 0},
    "encoding": {
     "x": {"field": "z1", "type": "quantitative", "scale": {"domain": [-1.563, 1.241], "nice": false, "zero": false}, "axis": {"values": [-1, 0, 1], "format": "d", "title": "z₁"}},
     "y": {"field": "z2", "type": "quantitative", "scale": {"domain": [-1.024, 1.04], "nice": false, "zero": false}, "axis": {"values": [-1, -0.5, 0, 0.5, 1], "format": ".1f", "title": "z₂"}},
     "color": {"field": "fidelity", "type": "nominal", "scale": {"domain": ["HF", "LF1", "LF2", "LF3"], "range": ["#ff1493", "#ffd700", "#ff8c00", "#808080"]},
       "legend": {"title": null, "orient": "none", "legendX": 323, "legendY": 20, "padding": 11, "strokeColor": "#d5d5d5", "cornerRadius": 4, "fillColor": "white", "labelFont": "Liberation Serif", "labelFontSize": 26, "labelColor": "black", "symbolSize": 290, "symbolOpacity": 0.6, "symbolStrokeWidth": 0, "rowPadding": 11, "labelOffset": 33, "symbolOffset": 13}},
     "shape": {"field": "fidelity", "type": "nominal", "scale": {"domain": ["HF", "LF1", "LF2", "LF3"], "range": ["M-1,-0.5L-0.5,-1L0,-0.5L0.5,-1L1,-0.5L0.5,0L1,0.5L0.5,1L0,0.5L-0.5,1L-1,0.5L-0.5,0Z", "circle", "square", "M-1,-1L1,-1L0,1Z"]},
       "legend": {"title": null, "orient": "none", "legendX": 323, "legendY": 20, "padding": 11, "strokeColor": "#d5d5d5", "cornerRadius": 4, "fillColor": "white", "labelFont": "Liberation Serif", "labelFontSize": 26, "labelColor": "black", "symbolSize": 290, "symbolOpacity": 0.6, "symbolStrokeWidth": 0, "rowPadding": 11, "labelOffset": 33, "symbolOffset": 13}}
    }
   }
  ]
 },
 {
  "width": 472,
  "height": 345,
  "data": {"name": "right"},
  "title": {"text": "(b) Probabilistic Embedding", "orient": "bottom", "anchor": "middle", "dx": -39, "offset": 27},
  "mark": {"type": "point", "filled": true, "opacity": 0.6, "size": 290, "strokeWidth": 0, "clip": true},
  "encoding": {
   "x": {"field": "z1", "type": "quantitative", "scale": {"domain": [-0.2048, 0.0574], "nice": false, "zero": false}, "axis": {"values": [-0.2, -0.1, 0.0], "format": ".1f", "title": "z₁"}},
   "y": {"field": "z2", "type": "quantitative", "scale": {"domain": [-0.129, 0.438], "nice": false, "zero": false}, "axis": {"values": [-0.1, 0.0, 0.1, 0.2, 0.3, 0.4], "format": ".1f", "title": "z₂"}},
   "color": {"field": "fidelity", "type": "nominal", "scale": {"domain": ["HF", "LF1", "LF2", "LF3"], "range": ["#ff1493", "#ffd700", "#ff8c00", "#808080"]}, "legend": null},
   "shape": {"field": "fidelity", "type": "nominal", "scale": {"domain": ["HF", "LF1", "LF2", "LF3"], "range": ["M-1,-0.5L-0.5,-1L0,-0.5L0.5,-1L1,-0.5L0.5,0L1,0.5L0.5,1L0,0.5L-0.5,1L-1,0.5L-0.5,0Z", "circle", "square", "M-1,-1L1,-1L0,1Z"]}, "legend": null}
  }
 }
],
"resolve": {"scale": {"color": "independent", "shape": "independent", "x": "independent", "y": "independent"}, "legend": {"color": "independent", "shape": "independent"}}
}
